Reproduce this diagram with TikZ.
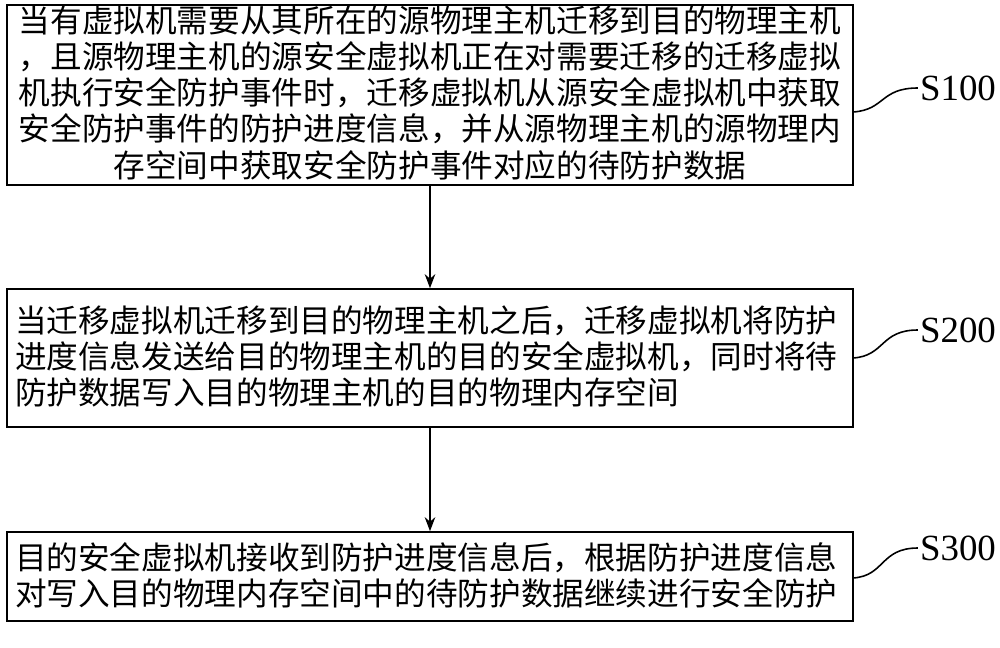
\documentclass[tikz,border=0pt]{standalone}
\usepackage{fontspec}
\setmainfont{Liberation Serif}
\newfontfamily\cjk{Noto Sans CJK SC}
\usetikzlibrary{arrows.meta}
\begin{document}
\begin{tikzpicture}[x=0.02cm,y=-0.02cm,
  boxs/.style={draw,line width=0.9pt,minimum width=846*0.02cm,inner sep=0pt},
  txt/.style={font=\cjk\fontsize{18pt}{20.5pt}\selectfont,text width=16.6cm,inner sep=0pt},
  lab/.style={font=\fontsize{21pt}{24pt}\selectfont,inner sep=1pt},
  arr/.style={-{Stealth[length=8pt,width=6pt]},line width=0.9pt},
  cur/.style={line width=0.9pt}]
\useasboundingbox (0,0) rectangle (1000,648);
\node[boxs,minimum height=180*0.02cm] (b1) at (430,95) {};
\node[boxs,minimum height=138*0.02cm] (b2) at (430,358) {};
\node[boxs,minimum height=89*0.02cm] (b3) at (430,576.5) {};
\node[txt,align=center] (t1) at (430,93) {当有虚拟机需要从其所在的源物理主机迁移到目的物理主机\\，且源物理主机的源安全虚拟机正在对需要迁移的迁移虚拟\\机执行安全防护事件时，迁移虚拟机从源安全虚拟机中获取\\安全防护事件的防护进度信息，并从源物理主机的源物理内\\存空间中获取安全防护事件对应的待防护数据};
\node[txt,align=left] (t2) at (430,356) {当迁移虚拟机迁移到目的物理主机之后，迁移虚拟机将防护\\进度信息发送给目的物理主机的目的安全虚拟机，同时将待\\防护数据写入目的物理主机的目的物理内存空间};
\node[txt,align=left] (t3) at (430,575) {目的安全虚拟机接收到防护进度信息后，根据防护进度信息\\对写入目的物理内存空间中的待防护数据继续进行安全防护};
\node[lab] (s1) at (958,88) {S100};
\node[lab] (s2) at (958,330) {S200};
\node[lab] (s3) at (958,548) {S300};
\draw[arr] (b1.south) -- (b2.north);
\draw[arr] (b2.south) -- (b3.north);
\coordinate (c1) at (853,112);
\coordinate (c2) at (853,358);
\coordinate (c3) at (853,578);
\draw[cur] (c1) .. controls (885,110) and (880,88) .. (s1.west);
\draw[cur] (c2) .. controls (885,356) and (880,330) .. (s2.west);
\draw[cur] (c3) .. controls (885,576) and (880,548) .. (s3.west);
\end{tikzpicture}
\end{document}
